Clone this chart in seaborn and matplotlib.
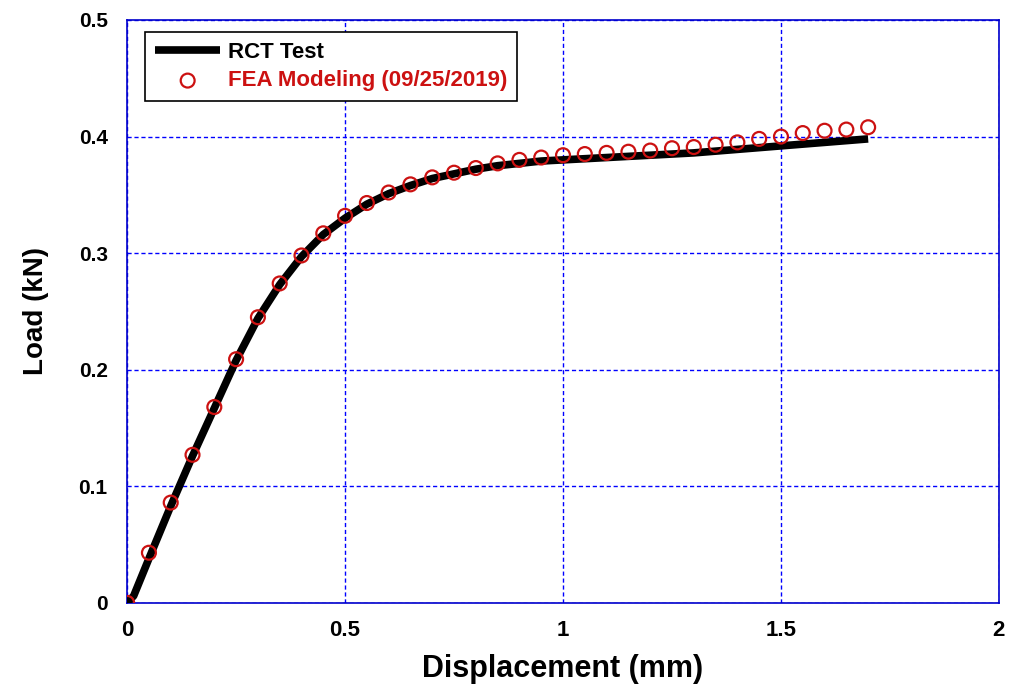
import numpy as np
import pandas as pd
import matplotlib
matplotlib.use("Agg")
import matplotlib.pyplot as plt
import seaborn as sns

# RCT test curve (displacement in mm, load in kN)
test_disp = [0.0, 0.015, 0.05, 0.10, 0.15, 0.20, 0.25, 0.30, 0.35, 0.40, 0.45, 0.50,
             0.55, 0.60, 0.65, 0.70, 0.75, 0.80, 0.85, 0.90, 0.95, 1.00, 1.10,
             1.20, 1.30, 1.40, 1.50, 1.60, 1.70]
test_load = [0.000, 0.006, 0.038, 0.083, 0.126, 0.167, 0.208, 0.244, 0.273, 0.297,
             0.316, 0.330, 0.342, 0.351, 0.358, 0.364, 0.368, 0.372, 0.375, 0.377,
             0.379, 0.380, 0.382, 0.384, 0.386, 0.389, 0.392, 0.395, 0.398]

# FEA model points
fea_disp = [0.00, 0.05, 0.10, 0.15, 0.20, 0.25, 0.30, 0.35, 0.40, 0.45, 0.50, 0.55,
            0.60, 0.65, 0.70, 0.75, 0.80, 0.85, 0.90, 0.95, 1.00, 1.05, 1.10, 1.15,
            1.20, 1.25, 1.30, 1.35, 1.40, 1.45, 1.50, 1.55, 1.60, 1.65, 1.70]
fea_load = [0.000, 0.043, 0.086, 0.127, 0.168, 0.209, 0.245, 0.274, 0.298, 0.317,
            0.332, 0.343, 0.352, 0.359, 0.365, 0.369, 0.373, 0.377, 0.380, 0.382,
            0.384, 0.385, 0.386, 0.387, 0.388, 0.390, 0.391, 0.393, 0.395, 0.398,
            0.400, 0.403, 0.405, 0.406, 0.408]

x_ticks = [0, 0.5, 1, 1.5, 2]
x_tick_labels = ["0", "0.5", "1", "1.5", "2"]
y_ticks = [0, 0.1, 0.2, 0.3, 0.4, 0.5]
y_tick_labels = ["0", "0.1", "0.2", "0.3", "0.4", "0.5"]

sns.set_style("white")
plt.rcParams["font.family"] = ["Liberation Sans", "DejaVu Sans"]
plt.rcParams["text.color"] = "black"
plt.rcParams["axes.labelcolor"] = "black"
plt.rcParams["xtick.color"] = "black"
plt.rcParams["ytick.color"] = "black"

test_df = pd.DataFrame({"disp": test_disp, "load": test_load})
fea_df = pd.DataFrame({"disp": fea_disp, "load": fea_load})

fig = plt.figure(figsize=(10.09, 6.89), dpi=100)
ax = fig.add_axes([0.126, 0.125, 0.864, 0.846])

sns.lineplot(data=test_df, x="disp", y="load", ax=ax, color="black", linewidth=5.5,
             label="RCT Test", zorder=3, solid_capstyle="butt")
sns.scatterplot(data=fea_df, x="disp", y="load", ax=ax, marker="o", s=100,
                facecolors="none", edgecolor="#cc1111", linewidth=1.6,
                label="FEA Modeling (09/25/2019)", zorder=4)

ax.set_xlim(0, 2)
ax.set_ylim(0, 0.5)
ax.set_xticks(x_ticks)
ax.set_yticks(y_ticks)
ax.set_xticklabels(x_tick_labels, fontsize=16, fontweight="bold")
ax.set_yticklabels(y_tick_labels, fontsize=15, fontweight="bold")
ax.tick_params(axis="both", direction="in", length=6, color="#0000dd", width=1)
ax.tick_params(axis="x", pad=12)
ax.tick_params(axis="y", pad=14)

ax.grid(True, color="#0000ff", linestyle=(0, (3, 2)), linewidth=1)
for sp in ax.spines.values():
    sp.set_color("#0000cc")
    sp.set_linewidth(1.2)

ax.set_xlabel("Displacement (mm)", fontsize=22, fontweight="bold", labelpad=10)
ax.set_ylabel("Load (kN)", fontsize=20, fontweight="bold", labelpad=21)

leg = ax.legend(loc="upper left", bbox_to_anchor=(0.021, 0.98), frameon=True,
                fancybox=False, edgecolor="black", framealpha=1,
                prop={"size": 16, "weight": "bold"},
                handlelength=2.9, handletextpad=0.35, borderpad=0.45, labelspacing=0.35,
                borderaxespad=0.0)
leg.get_frame().set_linewidth(1.2)
leg.get_texts()[1].set_color("#cc1111")

fig.savefig("out.png", dpi=100)
